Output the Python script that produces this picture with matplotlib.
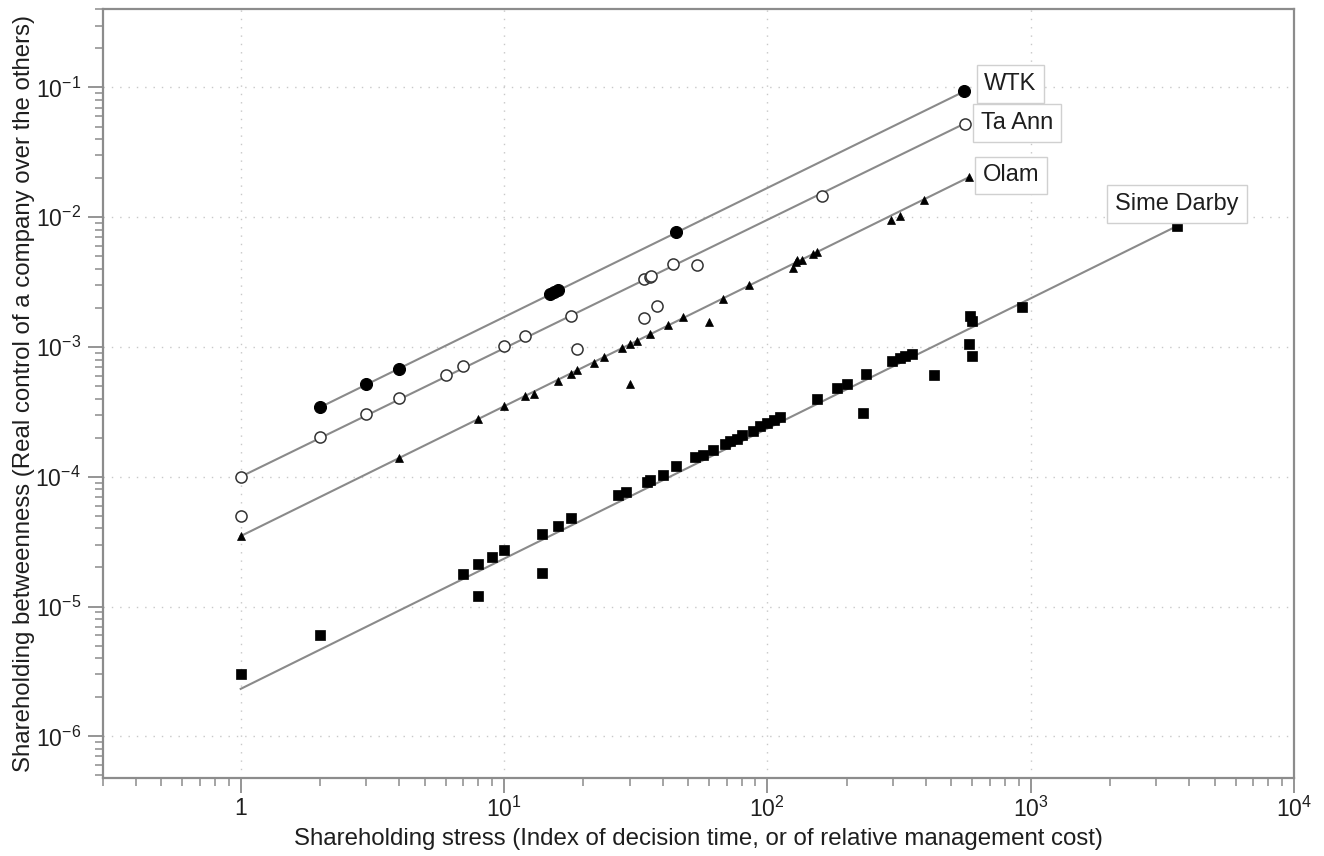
import matplotlib
matplotlib.use('Agg')
import matplotlib.pyplot as plt
import numpy as np

plt.rcParams['font.family'] = ['Liberation Sans', 'DejaVu Sans']
plt.rcParams['mathtext.fontset'] = 'custom'
plt.rcParams['mathtext.rm'] = 'Liberation Sans'
plt.rcParams['mathtext.it'] = 'Liberation Sans:italic'
plt.rcParams['mathtext.default'] = 'regular'

# ---------------- data ----------------
wtk_x = [2, 3, 4, 15, 15.5, 16, 45, 556]
wtk_y = [3.44e-4, 5.2e-4, 6.8e-4, 2.54e-3, 2.65e-3, 2.75e-3, 7.7e-3, 0.094]

taann_x = [1, 1, 2, 3, 4, 6, 7, 10, 12, 18, 19, 34, 34, 35.7, 36.3, 38, 44, 54, 162, 561]
taann_y = [1.0e-4, 5.0e-5, 2.02e-4, 3.06e-4, 4.07e-4, 6.1e-4, 7.1e-4, 1.02e-3, 1.22e-3,
           1.73e-3, 9.6e-4, 3.37e-3, 1.67e-3, 3.47e-3, 3.5e-3, 2.07e-3, 4.35e-3, 4.27e-3,
           0.0145, 0.052]

olam_x = [1, 4, 8, 10, 12, 13, 16, 18, 19, 22, 24, 28, 30, 30, 32, 36, 42, 48, 60, 68,
          85, 125, 128, 130, 135, 149, 155, 295, 318, 392, 583]
olam_y = [3.5e-5, 1.40e-4, 2.81e-4, 3.5e-4, 4.19e-4, 4.37e-4, 5.47e-4, 6.24e-4, 6.6e-4,
          7.58e-4, 8.4e-4, 9.9e-4, 5.2e-4, 1.05e-3, 1.11e-3, 1.25e-3, 1.47e-3, 1.69e-3,
          1.56e-3, 2.36e-3, 2.99e-3, 4.09e-3, 4.52e-3, 4.66e-3, 4.71e-3, 5.19e-3, 5.35e-3,
          9.6e-3, 1.02e-2, 1.35e-2, 2.05e-2]

sime_x = [1, 2, 7, 8, 8, 9, 10, 14, 14, 16, 18, 27, 29, 35, 36, 40, 45, 53, 57, 62, 69,
          72, 77, 80, 88, 94, 100, 106, 112, 155, 184, 201, 230, 238, 298, 318, 332, 353,
          431, 582, 590, 600, 600, 925, 3597]
sime_y = [3.0e-6, 6.0e-6, 1.79e-5, 2.11e-5, 1.2e-5, 2.4e-5, 2.71e-5, 3.6e-5, 1.81e-5,
          4.17e-5, 4.84e-5, 7.2e-5, 7.7e-5, 9.1e-5, 9.5e-5, 1.04e-4, 1.2e-4, 1.42e-4,
          1.48e-4, 1.6e-4, 1.8e-4, 1.88e-4, 1.95e-4, 2.1e-4, 2.25e-4, 2.45e-4, 2.6e-4,
          2.75e-4, 2.9e-4, 3.95e-4, 4.8e-4, 5.2e-4, 3.1e-4, 6.2e-4, 7.8e-4, 8.3e-4,
          8.6e-4, 8.9e-4, 6.05e-4, 1.05e-3, 1.73e-3, 1.58e-3, 8.6e-4, 2.02e-3, 8.53e-3]

# power-law fits y = a * x^b
fit_a = {'WTK': 1.72e-4, 'Ta Ann': 1.0e-4, 'Olam': 3.49e-5, 'Sime Darby': 2.32e-6}
fit_b = {'WTK': 0.995, 'Ta Ann': 0.99, 'Olam': 1.0, 'Sime Darby': 1.003}

series_names = ['WTK', 'Ta Ann', 'Olam', 'Sime Darby']

x_ticks = [1, 10, 100, 1000, 10000]
x_ticklabels = ['1', '$10^{1}$', '$10^{2}$', '$10^{3}$', '$10^{4}$']
y_ticks = [1e-6, 1e-5, 1e-4, 1e-3, 1e-2, 1e-1]
y_ticklabels = ['$10^{\u22126}$', '$10^{\u22125}$', '$10^{\u22124}$', '$10^{\u22123}$',
                '$10^{\u22122}$', '$10^{\u22121}$']

xlabel = 'Shareholding stress (Index of decision time, or of relative management cost)'
ylabel = 'Shareholding betweenness (Real control of a company over the others)'

# ---------------- figure ----------------
fig = plt.figure(figsize=(13.24, 8.56), dpi=100)
ax = fig.add_axes([0.0778, 0.0915, 0.8995, 0.8976])
ax.set_xscale('log')
ax.set_yscale('log')
ax.set_xlim(0.3, 1e4)
ax.set_ylim(4.8e-7, 0.4)

axis_gray = '#8c8c8c'
line_gray = '#8a8a8a'
text_col = '#1e1e1e'

data = {
    'WTK': (wtk_x, wtk_y),
    'Ta Ann': (taann_x, taann_y),
    'Olam': (olam_x, olam_y),
    'Sime Darby': (sime_x, sime_y),
}
styles = {
    'WTK': dict(marker='o', ms=8.6, mfc='black', mec='black', mew=0.8),
    'Ta Ann': dict(marker='o', ms=8.0, mfc='white', mec='#333333', mew=1.1),
    'Olam': dict(marker='^', ms=6.0, mfc='black', mec='black', mew=0.5),
    'Sime Darby': dict(marker='s', ms=7.8, mfc='black', mec='black', mew=0.5),
}

for name in series_names:
    xs, ys = data[name]
    xs = np.asarray(xs, float)
    xx = np.array([xs.min(), xs.max()])
    ax.plot(xx, fit_a[name] * xx ** fit_b[name], color=line_gray, lw=1.5, zorder=2)
    ax.plot(xs, ys, linestyle='none', zorder=3, **styles[name])

# labels
label_offsets = {
    'WTK': ((15, 5), 'left'),
    'Ta Ann': ((12, 1), 'left'),
    'Olam': ((10, 1), 'left'),
    'Sime Darby': ((0, 16), 'center'),
}
for name in series_names:
    xs, ys = data[name]
    i = int(np.argmax(xs))
    off, ha = label_offsets[name]
    ax.annotate(name, xy=(xs[i], ys[i]), xytext=off, textcoords='offset points',
                ha=ha, va='center', fontsize=17, color=text_col, zorder=5,
                bbox=dict(boxstyle='square,pad=0.33', fc='white', ec='#d0d0d0', lw=1.0))

# grid
ax.grid(True, which='major', color='#c8c8c8', linestyle=(0, (1, 5)), lw=1.0)
ax.set_axisbelow(True)

# ticks
ax.set_xticks(x_ticks)
ax.set_xticklabels(x_ticklabels)
ax.set_yticks(y_ticks)
ax.set_yticklabels(y_ticklabels)
ax.xaxis.set_minor_locator(matplotlib.ticker.LogLocator(base=10, subs=np.arange(2, 10), numticks=20))
ax.yaxis.set_minor_locator(matplotlib.ticker.LogLocator(base=10, subs=np.arange(2, 10), numticks=20))
ax.xaxis.set_minor_formatter(matplotlib.ticker.NullFormatter())
ax.yaxis.set_minor_formatter(matplotlib.ticker.NullFormatter())
ax.tick_params(which='major', direction='out', length=11, width=1.3, color=axis_gray,
               labelsize=16.5, labelcolor=text_col)
ax.tick_params(axis='y', which='major', pad=5)
ax.tick_params(axis='x', which='major', pad=3)
ax.tick_params(which='minor', direction='out', length=5.8, width=1.1, color=axis_gray)

for s in ax.spines.values():
    s.set_color(axis_gray)
    s.set_linewidth(1.6)

ax.set_xlabel(xlabel, fontsize=17.3, color=text_col, labelpad=4)
ax.set_ylabel(ylabel, fontsize=17.3, color=text_col, labelpad=0)

fig.savefig('out.png', dpi=100)
